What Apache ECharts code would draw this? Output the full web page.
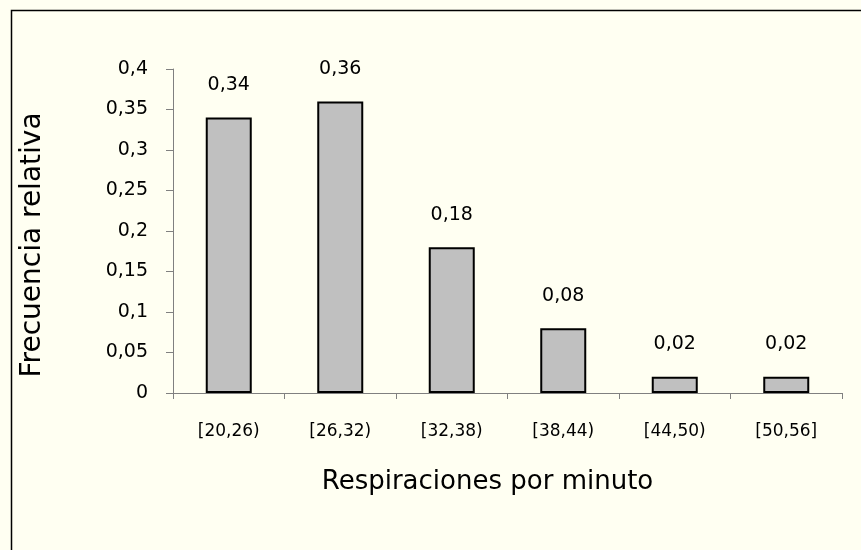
<!DOCTYPE html>
<html>
<head>
<meta charset="utf-8">
<script src="https://cdn.jsdelivr.net/npm/echarts@6/dist/echarts.min.js"></script>
<style>
  html, body { margin: 0; padding: 0; background: #fffff2; }
  #chart { width: 861px; height: 550px; }
</style>
</head>
<body>
<div id="chart"></div>
<script>
const categories = ['[20,26)', '[26,32)', '[32,38)', '[38,44)', '[44,50)', '[50,56]']
const frecuencias = [0.34, 0.36, 0.18, 0.08, 0.02, 0.02]

const FONT = 'DejaVu Sans'
const comma = v => String(+v.toFixed(2)).replace('.', ',')

const chart = echarts.init(document.getElementById('chart'))

const option = {
  backgroundColor: '#fffff2',
  animation: false,
  graphic: [
    {
      type: 'rect',
      left: 9,
      top: 8,
      shape: { width: 900, height: 600 },
      style: { fill: 'none', stroke: '#000', lineWidth: 1.5 }
    }
  ],
  grid: { left: 173, right: 19, top: 69, bottom: 157 },
  xAxis: {
    type: 'category',
    data: categories,
    name: 'Respiraciones por minuto',
    nameLocation: 'middle',
    nameGap: 76,
    nameTextStyle: { fontFamily: FONT, fontSize: 26, color: '#000', padding: [0, 40, 0, 0] },
    axisLine: { lineStyle: { color: '#808080', width: 1 } },
    axisTick: { show: true, length: 6, lineStyle: { color: '#808080' } },
    axisLabel: { fontFamily: FONT, fontSize: 17, color: '#000', margin: 30 }
  },
  yAxis: {
    type: 'value',
    min: 0,
    max: 0.4,
    interval: 0.05,
    name: 'Frecuencia relativa',
    nameLocation: 'middle',
    nameGap: 126,
    nameTextStyle: { fontFamily: FONT, fontSize: 28, color: '#000', padding: [0, 28, 0, 0] },
    splitLine: { show: false },
    axisLine: { show: true, lineStyle: { color: '#808080', width: 1 } },
    axisTick: { show: true, length: 7, lineStyle: { color: '#808080' } },
    axisLabel: { fontFamily: FONT, fontSize: 19, color: '#000', margin: 25, formatter: comma }
  },
  series: [
    {
      type: 'bar',
      data: frecuencias,
      barWidth: 46,
      itemStyle: { color: '#c0c0c0', borderColor: '#000', borderWidth: 2 },
      label: {
        show: true,
        position: 'top',
        distance: 23,
        fontFamily: FONT,
        fontSize: 19,
        color: '#000',
        formatter: p => comma(p.value)
      }
    }
  ]
}

chart.setOption(option)
</script>
</body>
</html>
